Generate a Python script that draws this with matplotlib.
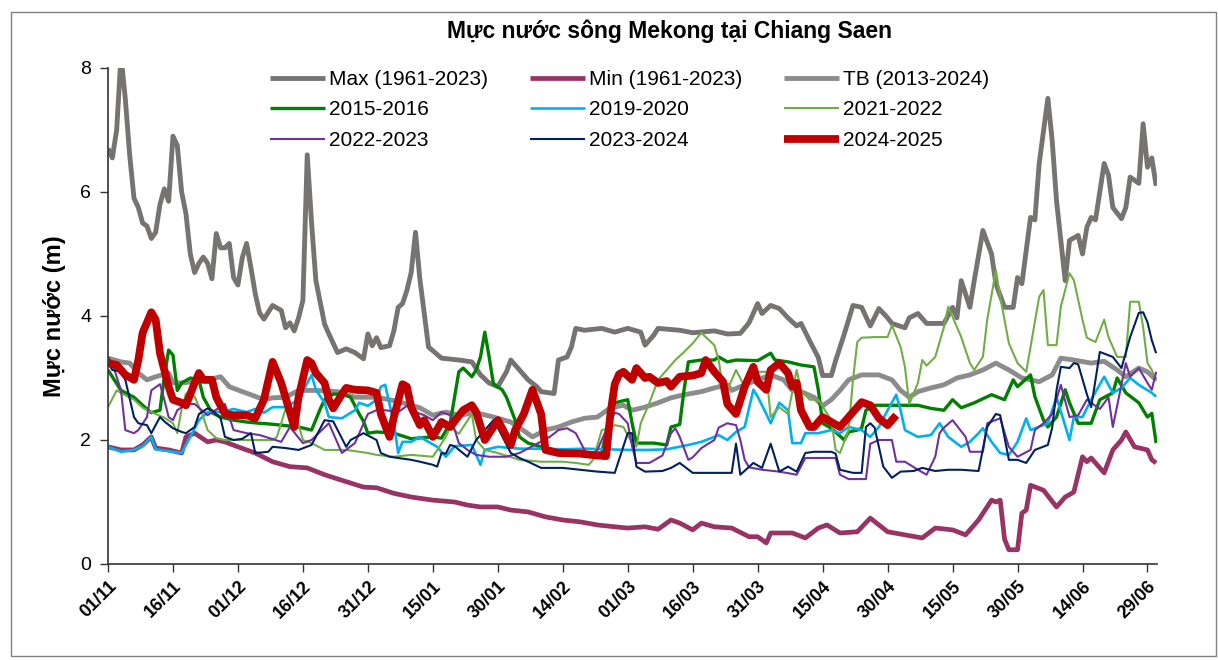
import matplotlib
matplotlib.use('Agg')
import matplotlib.pyplot as plt
from matplotlib.patches import Rectangle

plt.rcParams['font.family'] = ['Liberation Sans', 'DejaVu Sans']

title = 'Mực nước sông Mekong tại Chiang Saen'
ylabel = 'Mực nước (m)'
tick_days = list(range(0, 241, 15))
tick_labels = ['01/11', '16/11', '01/12', '16/12', '31/12', '15/01', '30/01', '14/02',
               '01/03', '16/03', '31/03', '15/04', '30/04', '15/05', '30/05', '14/06', '29/06']

max_days = [0, 1, 2, 3, 4, 5, 6, 7, 8, 9, 10, 11, 12, 13, 14, 15, 16, 17, 18, 19, 20, 21, 22, 23, 24, 25, 26, 27, 28, 29,
            30, 31, 32, 33, 34, 35, 36, 38, 40, 41, 42, 43, 44, 45, 46, 47, 48, 50, 51, 53, 55, 57, 59, 60, 61, 62, 63, 65,
            66, 67, 68, 69, 70, 71, 72, 73, 74, 77, 81, 84, 86, 88, 90, 92, 93, 95, 97, 99, 100, 103, 104, 106, 107, 108,
            110, 114, 117, 120, 123, 124, 126, 127, 132, 135, 140, 143, 146, 148, 150, 151, 153, 155, 157, 159, 160, 162,
            164, 165, 167, 168, 170, 172, 174, 176, 178, 180, 181, 184, 185, 187, 189, 193, 195, 196, 197, 199, 200, 202,
            204, 205, 207, 209, 210, 211, 212, 213, 214, 215, 217, 218, 219, 220, 221, 222, 224, 225, 226, 227, 228, 230,
            231, 232, 234, 235, 236, 238, 239, 240, 241, 242]
max_vals = [6.7, 6.55, 7.0, 8.2, 7.5, 6.6, 5.9, 5.75, 5.5, 5.45, 5.25, 5.35, 5.8, 6.05, 5.85, 6.9, 6.75, 6.0, 5.65, 5.0,
            4.7, 4.85, 4.95, 4.85, 4.6, 5.33, 5.1, 5.1, 5.17, 4.62, 4.5, 4.94, 5.17, 4.78, 4.36, 4.05, 3.95, 4.17, 4.09,
            3.81, 3.89, 3.76, 3.97, 4.25, 6.6, 5.5, 4.57, 3.87, 3.71, 3.41, 3.47, 3.41, 3.31, 3.71, 3.52, 3.65, 3.49,
            3.52, 3.76, 4.14, 4.2, 4.41, 4.7, 5.35, 4.6, 4.05, 3.5, 3.32, 3.29, 3.26, 3.05, 2.92, 2.86, 3.1, 3.29, 3.13,
            2.97, 2.86, 2.78, 2.75, 3.29, 3.34, 3.5, 3.8, 3.77, 3.8, 3.74, 3.8, 3.74, 3.53, 3.69, 3.8, 3.77, 3.73, 3.76,
            3.71, 3.72, 3.89, 4.2, 4.04, 4.17, 4.12, 3.97, 3.84, 3.88, 3.6, 3.33, 3.04, 3.04, 3.28, 3.71, 4.17, 4.14,
            3.84, 4.12, 3.97, 3.88, 3.81, 3.97, 4.04, 3.88, 3.88, 4.14, 3.97, 4.57, 4.14, 4.57, 5.38, 5.0, 4.52, 4.14,
            4.14, 4.62, 4.52, 5.06, 5.59, 5.55, 6.46, 7.51, 6.83, 5.86, 5.22, 4.57, 5.22, 5.3, 5.0, 5.43, 5.59, 5.55,
            6.46, 6.27, 5.75, 5.57, 5.75, 6.24, 6.14, 7.1, 6.4, 6.55, 6.1]

min_days = [0, 3, 6, 8, 10, 11, 14, 17, 18, 20, 23, 25, 27, 30, 34, 38, 42, 46, 50, 54, 59, 62, 66, 70, 75, 80, 83, 86,
            90, 93, 97, 101, 105, 109, 113, 117, 120, 124, 127, 130, 132, 135, 137, 140, 144, 148, 150, 152, 153, 158,
            161, 164, 166, 169, 173, 176, 180, 184, 188, 191, 195, 198, 201, 204, 205, 206, 207, 208, 210, 211, 212, 213,
            216, 219, 221, 223, 225, 226, 227, 230, 232, 234, 235, 237, 240, 241, 242]
min_vals = [1.89, 1.84, 1.84, 1.92, 2.05, 1.87, 1.84, 1.79, 2.05, 2.11, 1.97, 2.0, 1.97, 1.89, 1.79, 1.65, 1.57, 1.55,
            1.44, 1.35, 1.24, 1.23, 1.14, 1.08, 1.03, 1.0, 0.95, 0.92, 0.92, 0.87, 0.84, 0.76, 0.71, 0.68, 0.63, 0.6,
            0.58, 0.6, 0.56, 0.71, 0.66, 0.55, 0.66, 0.6, 0.58, 0.44, 0.44, 0.34, 0.5, 0.5, 0.42, 0.58, 0.63, 0.5, 0.52,
            0.74, 0.52, 0.47, 0.42, 0.58, 0.55, 0.47, 0.71, 1.03, 1.0, 1.03, 0.4, 0.23, 0.23, 0.82, 0.87, 1.27, 1.19,
            0.92, 1.08, 1.16, 1.73, 1.65, 1.71, 1.47, 1.84, 2.0, 2.13, 1.89, 1.84, 1.68, 1.63]

tb_days = [0, 3, 5, 7, 9, 11, 14, 15, 17, 21, 23, 26, 28, 31, 33, 36, 38, 41, 44, 46, 48, 53, 57, 62, 65, 68, 72, 75, 78,
           81, 85, 89, 93, 95, 98, 101, 104, 107, 110, 113, 116, 119, 121, 124, 127, 130, 133, 137, 140, 143, 144, 147,
           150, 153, 156, 158, 160, 163, 165, 167, 169, 171, 174, 178, 181, 183, 185, 187, 190, 193, 196, 199, 202, 205,
           208, 211, 215, 218, 220, 223, 227, 230, 233, 235, 238, 240, 242]
tb_vals = [3.32, 3.26, 3.24, 3.08, 2.97, 3.02, 3.08, 2.92, 2.92, 2.95, 2.97, 3.02, 2.86, 2.78, 2.73, 2.65, 2.68, 2.69,
           2.8, 2.8, 2.8, 2.78, 2.69, 2.69, 2.65, 2.6, 2.52, 2.4, 2.45, 2.4, 2.44, 2.37, 2.29, 2.2, 2.05, 2.16, 2.21,
           2.29, 2.35, 2.37, 2.52, 2.56, 2.48, 2.53, 2.6, 2.68, 2.73, 2.78, 2.84, 2.89, 2.8, 2.89, 2.97, 3.05, 2.97, 2.8,
           2.78, 2.69, 2.55, 2.65, 2.8, 2.97, 3.05, 3.05, 2.97, 2.8, 2.69, 2.78, 2.84, 2.89, 3.0, 3.05, 3.13, 3.24, 3.13,
           3.0, 2.94, 3.05, 3.32, 3.29, 3.24, 3.27, 3.13, 3.02, 3.16, 3.1, 2.97]

g15_days = [0, 1, 3, 6, 8, 10, 12, 13, 14, 15, 16, 17, 19, 21, 22, 24, 26, 29, 32, 35, 37, 40, 44, 47, 49, 50, 52, 54,
            56, 58, 59, 60, 62, 66, 70, 73, 75, 77, 79, 81, 82, 84, 85, 86, 87, 88, 89, 91, 92, 94, 95, 97, 100, 103,
            106, 111, 114, 115, 116, 117, 120, 121, 122, 126, 129, 130, 132, 133, 134, 137, 140, 141, 143, 145, 150,
            153, 154, 157, 160, 163, 164, 165, 167, 170, 171, 173, 174, 175, 177, 181, 184, 187, 190, 193, 195, 197,
            200, 204, 207, 209, 210, 213, 214, 216, 217, 219, 221, 222, 224, 227, 229, 232, 233, 235, 238, 240, 241, 242]
g15_vals = [3.13, 3.02, 2.8, 2.69, 2.56, 2.44, 2.48, 3.02, 3.45, 3.37, 2.8, 2.92, 3.0, 2.97, 2.69, 2.44, 2.37, 2.32,
            2.29, 2.27, 2.26, 2.24, 2.21, 2.16, 2.5, 2.65, 2.74, 2.74, 2.69, 2.42, 2.3, 2.11, 2.13, 2.11, 2.02, 2.04,
            2.05, 2.03, 2.27, 3.1, 3.16, 3.02, 3.13, 3.34, 3.74, 3.34, 2.9, 2.81, 2.69, 2.32, 2.05, 1.95, 1.89, 1.84,
            1.84, 1.79, 1.79, 2.11, 2.48, 2.6, 2.65, 2.27, 1.95, 1.95, 1.92, 2.21, 2.25, 2.81, 3.26, 3.29, 3.29, 3.34,
            3.26, 3.29, 3.28, 3.4, 3.29, 3.26, 3.21, 3.18, 2.81, 2.27, 2.19, 2.0, 2.13, 2.16, 2.19, 2.48, 2.56, 2.56,
            2.56, 2.56, 2.51, 2.48, 2.65, 2.52, 2.6, 2.73, 2.65, 2.97, 2.86, 3.05, 2.7, 2.32, 2.21, 2.37, 2.81, 2.6,
            2.27, 2.27, 2.65, 2.76, 3.0, 2.76, 2.6, 2.37, 2.43, 1.95]

c19_days = [0, 3, 6, 8, 10, 11, 14, 17, 19, 21, 23, 26, 29, 32, 34, 36, 38, 41, 44, 47, 48, 50, 51, 54, 57, 58, 60, 62,
            63, 64, 66, 67, 68, 70, 72, 74, 76, 78, 80, 84, 86, 87, 90, 95, 100, 105, 110, 115, 120, 125, 129, 134, 137,
            140, 141, 143, 145, 147, 149, 150, 152, 153, 155, 157, 158, 160, 161, 164, 167, 169, 171, 174, 176, 178, 180,
            182, 183, 184, 187, 190, 192, 194, 197, 199, 201, 202, 204, 206, 208, 210, 212, 213, 217, 219, 222, 223, 225,
            227, 230, 232, 234, 236, 238, 241, 242]
c19_vals = [1.89, 1.81, 1.84, 1.9, 2.05, 1.85, 1.82, 1.79, 2.05, 2.32, 2.45, 2.45, 2.5, 2.45, 2.5, 2.44, 2.53, 2.53,
            2.65, 3.05, 2.81, 2.6, 2.37, 2.35, 2.48, 2.6, 2.55, 2.65, 2.86, 2.89, 2.27, 1.79, 1.97, 1.97, 2.05, 1.97,
            1.89, 1.73, 1.9, 1.92, 1.6, 1.84, 1.89, 1.86, 1.86, 1.85, 1.86, 1.85, 1.84, 1.84, 1.85, 1.92, 1.97, 2.05,
            2.08, 2.0, 2.13, 2.21, 2.81, 2.7, 2.42, 2.27, 2.6, 2.48, 1.95, 1.95, 2.11, 2.11, 2.16, 2.11, 2.21, 2.16,
            2.05, 2.21, 2.48, 2.73, 2.48, 2.16, 2.05, 2.08, 2.27, 2.05, 1.89, 1.97, 2.11, 2.19, 1.97, 1.79, 1.76, 1.97,
            2.35, 2.16, 2.27, 2.69, 2.0, 2.37, 2.37, 2.65, 3.02, 2.76, 2.84, 3.0, 2.89, 2.76, 2.7]

l21_days = [0, 2, 4, 6, 8, 10, 13, 15, 16, 17, 18, 20, 22, 23, 25, 27, 30, 34, 38, 39, 41, 43, 45, 47, 50, 55, 60, 62,
            66, 70, 75, 78, 79, 81, 84, 85, 87, 90, 95, 100, 105, 108, 111, 112, 114, 116, 117, 119, 121, 122, 123, 125,
            127, 129, 131, 133, 135, 137, 138, 140, 141, 142, 143, 145, 147, 150, 152, 153, 155, 157, 159, 160, 162, 164,
            167, 168, 169, 171, 172, 173, 174, 177, 180, 181, 183, 184, 185, 187, 188, 189, 191, 193, 194, 197, 199, 200,
            202, 203, 205, 206, 208, 210, 212, 213, 215, 216, 217, 219, 220, 222, 223, 225, 226, 228, 230, 231, 233, 235,
            236, 238, 239, 240, 241, 242]
l21_vals = [2.53, 2.8, 2.72, 2.65, 2.52, 2.45, 2.36, 2.27, 2.11, 2.5, 2.75, 2.7, 2.37, 2.16, 2.03, 2.0, 2.0, 2.0, 2.0,
            2.05, 2.5, 2.5, 2.0, 1.95, 1.84, 1.84, 1.79, 1.76, 1.73, 1.76, 1.73, 2.05, 2.21, 2.1, 2.42, 2.0, 1.84, 1.79,
            1.68, 1.65, 1.65, 1.63, 1.6, 1.68, 2.16, 2.2, 2.24, 2.21, 1.95, 1.89, 2.27, 2.6, 2.97, 3.13, 3.29, 3.42, 3.56,
            3.73, 3.66, 3.53, 3.29, 2.81, 2.81, 3.13, 2.86, 3.1, 3.1, 2.37, 2.53, 2.42, 3.13, 2.81, 2.65, 2.65, 2.32,
            1.84, 1.79, 2.16, 2.97, 3.58, 3.65, 3.66, 3.66, 3.85, 3.5, 3.18, 2.58, 2.92, 3.29, 3.2, 3.34, 3.82, 4.15,
            3.66, 3.24, 3.13, 3.34, 3.94, 4.74, 4.31, 3.56, 3.24, 3.1, 3.5, 4.31, 4.42, 3.53, 3.53, 4.15, 4.69, 4.58,
            3.94, 3.65, 3.58, 3.94, 3.66, 3.34, 3.34, 4.23, 4.23, 3.82, 3.24, 3.13, 2.95]

p22_days = [0, 1, 3, 4, 6, 7, 9, 10, 12, 13, 14, 15, 16, 18, 20, 23, 27, 29, 32, 35, 40, 42, 45, 47, 51, 54, 57, 60, 62,
            64, 67, 69, 71, 73, 75, 77, 79, 81, 83, 85, 88, 92, 95, 102, 104, 106, 108, 110, 111, 113, 115, 117, 118,
            120, 121, 122, 125, 128, 130, 131, 132, 134, 135, 137, 140, 141, 143, 145, 146, 147, 148, 151, 155, 159, 161,
            168, 169, 171, 175, 176, 178, 181, 182, 184, 187, 189, 191, 192, 193, 195, 198, 199, 202, 203, 206, 208, 210,
            213, 214, 216, 218, 220, 222, 224, 226, 229, 231, 232, 235, 236, 238, 240, 241, 242]
p22_vals = [3.34, 3.24, 2.8, 2.16, 2.11, 2.16, 2.37, 2.8, 2.9, 2.65, 2.37, 2.32, 2.48, 2.58, 2.58, 2.4, 2.58, 2.16,
            2.11, 2.08, 1.97, 2.21, 1.95, 2.0, 2.27, 1.79, 1.95, 2.42, 2.48, 2.48, 2.45, 2.55, 2.45, 2.4, 2.32, 2.45, 2.4,
            1.95, 1.84, 1.76, 1.73, 1.73, 1.79, 2.05, 2.16, 2.19, 2.11, 1.84, 1.73, 1.84, 2.16, 2.44, 2.42, 2.27, 1.9,
            1.63, 1.63, 1.75, 2.11, 2.19, 2.05, 1.68, 1.72, 1.87, 2.0, 2.2, 2.27, 2.24, 2.0, 1.68, 1.56, 1.52, 1.49,
            1.44, 1.71, 1.71, 1.44, 1.37, 1.37, 1.94, 2.0, 2.0, 1.65, 1.65, 1.52, 1.44, 1.73, 2.11, 2.2, 2.32, 2.05,
            1.81, 1.81, 2.27, 2.35, 1.89, 1.73, 1.84, 2.16, 2.27, 2.42, 2.89, 2.37, 2.4, 2.65, 2.5, 2.69, 2.21, 3.24,
            3.02, 3.16, 2.92, 2.81, 3.1]

n23_days = [0, 1, 3, 4, 6, 7, 9, 10, 12, 13, 15, 17, 18, 20, 21, 23, 24, 26, 27, 29, 31, 33, 34, 37, 38, 41, 44, 47, 50,
            52, 55, 56, 59, 62, 63, 65, 67, 70, 72, 75, 76, 77, 78, 79, 80, 83, 85, 87, 89, 90, 93, 95, 97, 100, 105,
            109, 113, 117, 120, 121, 122, 124, 128, 130, 132, 135, 139, 144, 145, 146, 149, 151, 153, 155, 157, 159, 161,
            163, 167, 168, 169, 172, 174, 175, 176, 177, 179, 181, 183, 186, 188, 191, 194, 197, 199, 201, 203, 205, 206,
            208, 210, 212, 214, 217, 218, 219, 220, 222, 223, 224, 226, 227, 228, 229, 232, 234, 236, 238, 239, 240, 241,
            242]
n23_vals = [3.25, 3.13, 3.1, 2.97, 2.37, 2.27, 2.24, 2.11, 2.37, 2.3, 2.19, 2.13, 2.11, 2.21, 2.42, 2.51, 2.48, 2.35,
            2.05, 2.0, 2.02, 2.11, 1.79, 1.81, 1.89, 1.87, 1.84, 1.92, 2.32, 2.3, 1.89, 2.0, 2.11, 2.0, 1.79, 1.73,
            1.71, 1.68, 1.65, 1.6, 1.57, 1.79, 1.78, 1.92, 1.9, 1.73, 2.0, 2.16, 2.32, 2.2, 1.79, 1.71, 1.65, 1.55,
            1.55, 1.52, 1.49, 1.47, 2.11, 2.11, 1.57, 1.49, 1.5, 1.55, 1.63, 1.47, 1.47, 1.47, 1.94, 1.44, 1.63, 1.55,
            1.94, 1.49, 1.57, 1.49, 1.79, 1.81, 1.81, 1.78, 1.52, 1.47, 1.47, 2.21, 2.27, 2.2, 1.57, 1.39, 1.49, 1.5,
            1.55, 1.5, 1.52, 1.52, 1.51, 1.5, 2.21, 2.42, 2.4, 1.68, 1.68, 1.63, 1.84, 1.92, 2.2, 2.8, 3.18, 3.16, 3.24,
            3.22, 2.74, 2.53, 2.97, 3.42, 3.34, 3.16, 3.66, 4.05, 4.06, 3.9, 3.61, 3.4]

r24_days = [0, 2, 4, 6, 7, 8, 10, 11, 12, 14, 15, 17, 18, 20, 21, 22, 24, 25, 27, 29, 32, 34, 36, 38, 40, 43, 44, 46,
            47, 48, 50, 51, 52, 54, 55, 57, 60, 62, 63, 65, 66, 68, 69, 70, 72, 73, 75, 77, 79, 82, 84, 85, 87, 89, 90,
            93, 94, 96, 98, 100, 101, 104, 109, 113, 115, 116, 117, 118, 119, 121, 122, 124, 125, 127, 129, 130, 132,
            135, 137, 138, 140, 142, 143, 145, 147, 149, 150, 152, 153, 155, 157, 158, 159, 160, 162, 163, 165, 167, 169,
            171, 174, 176, 178, 180, 182]
r24_vals = [3.24, 3.21, 3.05, 2.97, 3.29, 3.73, 4.06, 3.94, 3.4, 2.86, 2.65, 2.6, 2.56, 2.92, 3.08, 2.97, 2.97, 2.69,
            2.42, 2.4, 2.4, 2.35, 2.65, 3.26, 2.92, 2.21, 2.69, 3.29, 3.24, 3.08, 2.92, 2.65, 2.51, 2.74, 2.84, 2.81,
            2.8, 2.76, 2.42, 2.05, 2.37, 2.9, 2.86, 2.53, 2.24, 2.32, 2.05, 2.29, 2.21, 2.48, 2.56, 2.45, 2.0, 2.21,
            2.32, 1.92, 2.16, 2.42, 2.81, 2.42, 1.84, 1.79, 1.78, 1.75, 1.74, 2.42, 2.9, 3.06, 3.1, 2.97, 3.16, 3.0,
            3.02, 2.92, 2.95, 2.86, 3.02, 3.04, 3.08, 3.29, 3.1, 2.94, 2.58, 2.42, 2.86, 3.18, 2.94, 2.81, 3.13, 3.24,
            3.08, 2.86, 2.92, 2.48, 2.21, 2.21, 2.37, 2.29, 2.21, 2.37, 2.61, 2.56, 2.35, 2.24, 2.4]

series = [
    ('Max (1961-2023)', max_days, max_vals, '#777373', 3.5),
    ('Min (1961-2023)', min_days, min_vals, '#993366', 3.4),
    ('TB (2013-2024)', tb_days, tb_vals, '#8C8C8C', 3.5),
    ('2015-2016', g15_days, g15_vals, '#008000', 2.4),
    ('2019-2020', c19_days, c19_vals, '#00B0F0', 1.9),
    ('2021-2022', l21_days, l21_vals, '#70AD47', 1.5),
    ('2022-2023', p22_days, p22_vals, '#7030A0', 1.5),
    ('2023-2024', n23_days, n23_vals, '#002060', 1.5),
    ('2024-2025', r24_days, r24_vals, '#C00000', 5.6),
]

fig = plt.figure(figsize=(12.18, 6.6), dpi=100)
ax = fig.add_axes([108 / 1218, 1 - 564 / 660, (1157 - 108) / 1218, (564 - 68) / 660])

lines = []
for name, d, v, c, lw in series:
    ln, = ax.plot(d, v, color=c, lw=lw, label=name, solid_joinstyle='round', solid_capstyle='butt')
    lines.append(ln)

ax.set_xlim(0, 242.2)
ax.set_ylim(0, 8)
ax.set_yticks([0, 2, 4, 6, 8])
ax.set_xticks(tick_days)
ax.set_xticklabels(tick_labels, rotation=45, ha='right', rotation_mode='anchor',
                   fontsize=13, fontweight='bold')
ax.tick_params(axis='y', labelsize=14, length=6, width=1, direction='out', colors='#333333',
               labelcolor='black', pad=6)
ax.tick_params(axis='x', length=6, width=1, direction='out', colors='#333333', labelcolor='black', pad=4)
for s in ['top', 'right']:
    ax.spines[s].set_visible(False)
for s in ['left', 'bottom']:
    ax.spines[s].set_color('#333333')
    ax.spines[s].set_linewidth(1.2)

ax.set_ylabel(ylabel, fontsize=17, fontweight='bold', labelpad=10)
fig.text(0.55, 0.953, title, ha='center', va='center', fontsize=16.5, fontweight='bold')

# legend rows are read left-to-right; matplotlib fills columns first
order = [0, 3, 6, 1, 4, 7, 2, 5, 8]
leg = ax.legend([lines[i] for i in order], [series[i][0] for i in order],
                ncol=3, loc='upper left', bbox_to_anchor=(0.154, 0.996), frameon=False,
                fontsize=15, handlelength=2.65, handletextpad=0.2, columnspacing=2.0,
                labelspacing=0.55, borderpad=0, borderaxespad=0)

fig.patches.append(Rectangle((11 / 1218, 4 / 660), 1205 / 1218, 644 / 660, transform=fig.transFigure,
                             fill=False, edgecolor='#808080', lw=1))

fig.savefig('out.png', dpi=100)
